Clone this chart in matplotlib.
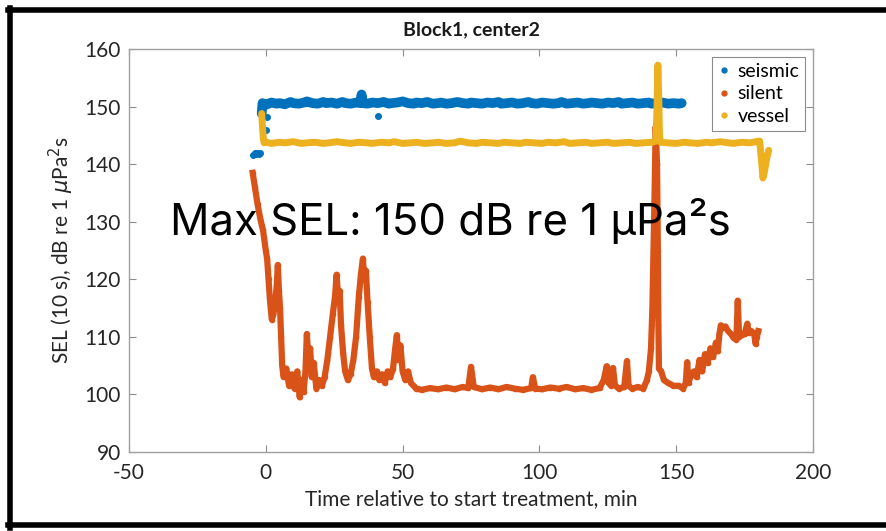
import numpy as np
import matplotlib
matplotlib.use("Agg")
import matplotlib.pyplot as plt
from matplotlib.lines import Line2D

# colours (MATLAB default order)
c_seismic = "#0072BD"
c_silent = "#D95319"
c_vessel = "#EDB120"

# ---- data (time in min, SEL in dB) ----
seismic_pre_t = [-4.6, -4.1, -3.6, -3.1, -2.6, -2.1, 0.2, 0.6]
seismic_pre_v = [141.6, 141.9, 141.7, 142.0, 141.8, 141.9, 146.0, 148.2]

seismic_t = [-1.5, -1.2, 0, 2, 4, 5, 7, 9, 10, 12, 14, 15, 17, 19, 21, 22, 24,
             26, 28, 29, 31, 33, 34.5, 35, 35.5, 37, 39, 41, 43, 45, 46, 48, 50,
             52, 54, 55, 57, 59, 61, 63, 64, 66, 68, 70, 72, 74, 75, 77, 79, 81,
             83, 85, 86, 88, 90, 92, 94, 96, 97, 99, 101, 103, 105, 107, 108,
             110, 112, 114, 116, 118, 119, 121, 123, 125, 127, 129, 130, 132,
             134, 136, 138, 140, 141, 143, 145, 147, 149, 151, 152]
seismic_v = [148.8, 150.6, 150.3, 150.7, 150.5, 150.6, 150.4, 150.8, 150.6,
             150.5, 150.7, 150.9, 150.6, 150.5, 150.8, 150.6, 150.7, 150.5,
             150.8, 150.6, 150.5, 150.7, 150.6, 152.1, 150.6, 150.5, 150.7,
             150.6, 150.8, 150.5, 150.6, 150.7, 150.9, 150.6, 150.5, 150.7,
             150.6, 150.8, 150.5, 150.6, 150.7, 150.5, 150.6, 150.8, 150.6,
             150.5, 150.7, 150.6, 150.5, 150.7, 150.6, 150.8, 150.5, 150.6,
             150.7, 150.5, 150.6, 150.8, 150.6, 150.5, 150.7, 150.6, 150.5,
             150.6, 150.8, 150.5, 150.6, 150.7, 150.5, 150.6, 150.7, 150.6,
             150.5, 150.7, 150.6, 150.8, 150.5, 150.6, 150.7, 150.5, 150.6,
             150.7, 150.5, 150.6, 150.7, 150.5, 150.6, 150.5, 150.6]
seismic_out_t = [41.0]
seismic_out_v = [148.3]

vessel_t = [-1.5, -1.2, -0.9, -0.6, 0, 2, 5, 7, 10, 13, 15, 18, 21, 23, 26, 29,
            31, 34, 37, 39, 42, 45, 47, 50, 53, 55, 58, 61, 63, 66, 69, 71, 74,
            77, 79, 82, 85, 87, 90, 93, 95, 98, 101, 103, 106, 109, 111, 114,
            117, 119, 122, 125, 127, 130, 133, 135, 138, 141, 142.6, 143.0,
            143.3, 143.6, 143.9, 144.3, 147, 150, 153, 155, 158, 161, 163, 166,
            169, 171, 174, 177, 179, 180.5, 181.2, 181.7, 182.3, 183.0, 183.8]
vessel_v = [148.8, 146.5, 144.5, 143.7, 143.8, 143.6, 143.8, 143.7, 143.9,
            143.6, 143.7, 143.8, 143.6, 143.7, 143.9, 143.7, 143.6, 143.8,
            143.7, 143.6, 143.8, 143.7, 143.9, 143.6, 143.7, 143.8, 143.6,
            143.7, 143.8, 143.6, 143.7, 144.0, 143.7, 143.6, 143.8, 143.7,
            143.6, 143.8, 143.7, 143.6, 143.8, 143.7, 143.6, 143.8, 143.7,
            143.9, 143.6, 143.7, 143.8, 143.6, 143.7, 143.8, 143.6, 143.7,
            143.8, 143.6, 143.7, 143.8, 144.0, 150.0, 157.2, 152.0, 145.0,
            143.8, 143.7, 143.6, 143.8, 143.7, 143.6, 143.8, 143.7, 143.9,
            143.7, 143.6, 143.8, 143.7, 143.9, 144.0, 140.5, 137.6, 138.8,
            140.8, 142.4]

silent_t = [-4.8, -4.0, -3.0, -2.0, -1.0, 0.0, 0.5, 1.0, 1.5, 2.2, 2.8, 3.5, 4.0,
            4.4, 4.8, 5.2, 5.6, 6.0, 6.5, 7.5, 8.5, 9.5, 10.5, 11.5, 12.4, 13.0,
            13.8, 14.5, 15.0, 15.6, 16.2, 16.8, 17.5, 18.5, 19.5, 20.5, 21.5,
            22.5, 23.5, 24.5, 25.3, 25.9, 26.5, 27.0, 27.5, 28.3, 29.0, 30.0,
            31.0, 32.0, 33.0, 34.0, 34.8, 35.5, 36.0, 36.6, 37.2, 38.0, 38.8,
            39.5, 40.5, 41.5, 42.5, 43.5, 44.5, 45.5, 46.5, 47.3, 47.9, 48.5,
            49.2, 50.0, 51.0, 52.0, 53.0, 54.0, 55, 57, 60, 63, 66, 69, 72, 74,
            75, 76, 79, 82, 85, 88, 91, 94, 97, 97.6, 98.5, 101, 104, 107, 110,
            113, 116, 119, 122, 123.5, 124.6, 125.3, 126.2, 126.9, 127.6, 129,
            131, 132, 132.6, 134, 136, 138, 139.3, 140, 140.8, 141.3, 141.7,
            142.1, 142.5, 143.0, 143.3, 143.5, 143.7, 144.5, 145.5, 147, 149,
            151, 152.5, 153.5, 154, 154.5, 155.5, 156.5, 157.5, 158.5, 159.5,
            160.5, 161.5, 162.5, 163.5, 164.5, 165.2, 165.8, 166.3, 167, 168,
            169, 170, 171, 172, 172.5, 173, 174, 175, 176, 176.5, 177.5, 178.5,
            179, 179.5, 180]
silent_v = [138.5, 136.0, 133.0, 130.5, 128.5, 125.0, 123.5, 120.0, 116.5,
            113.0, 114.0, 116.0, 119.0, 122.5, 118.0, 115.0, 110.0, 105.0,
            103.0, 104.5, 101.5, 103.5, 101.0, 104.0, 99.5, 102.5, 100.5, 104.0,
            110.5, 106.0, 108.0, 103.0, 105.5, 101.0, 102.5, 101.5, 103.0, 106.0,
            110.0, 114.0, 117.0, 120.8, 116.0, 118.0, 112.0, 107.0, 104.0, 102.5,
            103.5, 106.0, 110.0, 117.0, 121.0, 123.6, 120.0, 121.5, 116.0, 110.0,
            104.5, 103.0, 104.0, 102.5, 103.5, 102.0, 104.0, 103.0, 104.5, 108.0,
            110.3, 106.0, 108.5, 104.0, 102.5, 104.0, 102.0, 101.5, 101.0, 100.8,
            101.1, 100.9, 101.2, 100.9, 101.3, 101.1, 104.8, 101.3, 100.9, 101.2,
            100.9, 101.3, 101.0, 100.8, 101.1, 103.0, 101.0, 100.9, 101.2, 101.0,
            101.3, 100.9, 101.1, 100.8, 101.1, 102.5, 104.9, 102.0, 101.5, 104.6,
            101.6, 101.0, 101.3, 105.8, 101.5, 101.0, 101.3, 101.0, 102.5, 104.0,
            108.0, 115.0, 125.0, 135.0, 146.5, 140.0, 125.0, 112.0, 104.5, 104.0,
            102.5, 102.0, 101.5, 101.5, 101.0, 102.0, 105.6, 102.0, 103.5, 104.0,
            103.0, 106.0, 104.0, 107.0, 105.5, 108.0, 106.5, 109.0, 107.5, 110.5,
            112.0, 111.5, 111.8, 111.0, 110.5, 109.8, 109.5, 116.3, 110.0, 110.3,
            110.5, 112.3, 110.7, 111.0, 110.5, 108.8, 110.0, 111.0]

xticks = [-50, 0, 50, 100, 150, 200]
yticks = [90, 100, 110, 120, 130, 140, 150, 160]

plt.rcParams['font.family'] = ['Lato', 'DejaVu Sans']
plt.rcParams['axes.unicode_minus'] = False

fig = plt.figure(figsize=(8.87, 5.31), dpi=100)
ax = fig.add_axes([129 / 887, 1 - 452 / 531, (813 - 129) / 887, (452 - 49) / 531])

# silent first, then seismic, vessel on top
ax.plot(silent_t, silent_v, '-', color=c_silent, lw=4.5, marker='.', ms=6)
ax.plot(seismic_t, seismic_v, '-', color=c_seismic, lw=7, solid_capstyle='round')
ax.plot(seismic_pre_t, seismic_pre_v, '.', color=c_seismic, ms=8)
ax.plot(seismic_out_t, seismic_out_v, '.', color=c_seismic, ms=8)
ax.plot(vessel_t, vessel_v, '-', color=c_vessel, lw=5, solid_capstyle='round')

ax.set_xlim(-50, 200)
ax.set_ylim(90, 160)
ax.set_xticks(xticks)
ax.set_yticks(yticks)
ax.tick_params(direction='in', top=True, right=True, length=5, width=0.8,
               colors='#8c8c8c', labelcolor='#262626', labelsize=15)
ax.tick_params(axis='x', pad=8)
ax.tick_params(axis='y', pad=6)
for s in ax.spines.values():
    s.set_color('#a0a0a0')
    s.set_linewidth(1.0)

ax.set_title('Block1, center2', fontsize=14, fontweight='bold', color='#1a1a1a', pad=10)
ax.set_xlabel('Time relative to start treatment, min', fontsize=15, color='#262626', labelpad=4)
ax.set_ylabel(r'SEL (10 s), dB re 1 $\mu$Pa$^2$s', fontsize=15, color='#262626', labelpad=6)

handles = [Line2D([], [], color=c, marker='.', ls='', ms=7) for c in (c_seismic, c_silent, c_vessel)]
leg = ax.legend(handles, ['seismic', 'silent', 'vessel'], loc='upper right', fontsize=14,
                handlelength=0.6, handletextpad=0.4, borderaxespad=0.4, fancybox=False,
                framealpha=1, labelspacing=0.3, borderpad=0.3)
leg.get_frame().set_edgecolor('#8c8c8c')
leg.get_frame().set_linewidth(0.8)

fig.text(450 / 887, 1 - 235 / 531, 'Max SEL: 150 dB re 1 μPa²s', ha='center', va='baseline',
         fontsize=31.5, family=['Inter', 'DejaVu Sans'], color='black')

# black frame around the picture (left, top, bottom)
fig.add_artist(Line2D([10 / 887, 10 / 887], [1 - 8 / 531, 1 - 528 / 531], color='black', lw=4))
fig.add_artist(Line2D([8 / 887, 1.0], [1 - 10 / 531, 1 - 10 / 531], color='black', lw=4))
fig.add_artist(Line2D([8 / 887, 1.0], [1 - 525 / 531, 1 - 525 / 531], color='black', lw=4))

fig.savefig('out.png', dpi=100)
